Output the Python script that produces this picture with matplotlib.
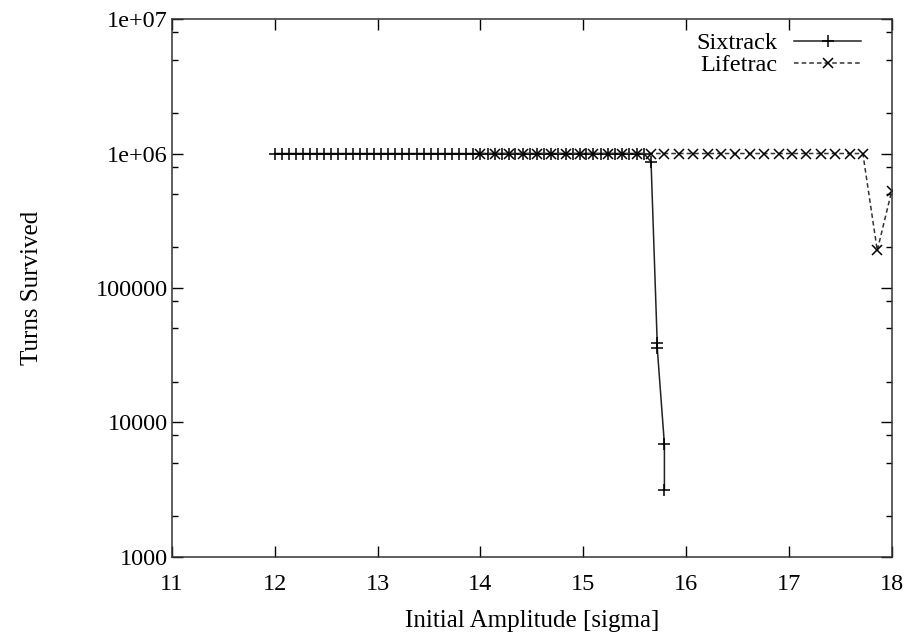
import numpy as np
import matplotlib
matplotlib.use("Agg")
import matplotlib.pyplot as plt
from matplotlib.ticker import FixedLocator, FixedFormatter

plt.rcParams['font.family'] = ['Liberation Serif', 'DejaVu Serif']

# Sixtrack: amplitude [sigma] vs turns survived
six_x = [12.00, 12.07, 12.14, 12.21, 12.28, 12.34, 12.41, 12.48, 12.55, 12.62,
         12.69, 12.76, 12.83, 12.90, 12.97, 13.03, 13.10, 13.17, 13.24, 13.31,
         13.38, 13.45, 13.52, 13.59, 13.66, 13.72, 13.79, 13.86, 13.93, 14.00,
         14.07, 14.14, 14.21, 14.28, 14.34, 14.41, 14.48, 14.55, 14.62, 14.69,
         14.76, 14.83, 14.90, 14.97, 15.03, 15.10, 15.17, 15.24, 15.31, 15.38,
         15.45, 15.52, 15.59, 15.66, 15.72, 15.72, 15.79, 15.79]
six_y = [1e6] * 53 + [870000, 39000, 36000, 6900, 3150]

# Lifetrac
life_x = [14.00, 14.14, 14.28, 14.41, 14.55, 14.69, 14.83, 14.97, 15.10, 15.24,
          15.38, 15.52, 15.66, 15.79, 15.93, 16.07, 16.21, 16.34, 16.48, 16.62,
          16.76, 16.90, 17.03, 17.17, 17.31, 17.45, 17.59, 17.72, 17.86, 18.00]
life_y = [1e6] * 28 + [190000, 525000]

y_ticks = [1e3, 1e4, 1e5, 1e6, 1e7]
y_labels = ['1000', '10000', '100000', '1e+06', '1e+07']
x_ticks = [11, 12, 13, 14, 15, 16, 17, 18]

fig = plt.figure(figsize=(9.24, 6.35), dpi=100)
ax = fig.add_axes([0.186, 0.123, 0.779, 0.847])

ax.plot(six_x, six_y, '-', color='#222222', lw=1.1, marker='+', ms=8,
        mew=1.1, mec='black', label='Sixtrack')
ax.plot(life_x, life_y, '--', color='#333333', lw=1.1, dashes=(3, 2),
        marker='x', ms=6.5, mew=1.1, mec='black', label='Lifetrac')

ax.set_yscale('log')
ax.set_xlim(11, 18)
ax.set_ylim(1e3, 1e7)

ax.yaxis.set_major_locator(FixedLocator(y_ticks))
ax.yaxis.set_major_formatter(FixedFormatter(y_labels))
minors = [m * d for d in [1e3, 1e4, 1e5, 1e6] for m in (2, 5, 8)]
ax.yaxis.set_minor_locator(FixedLocator(minors))
ax.yaxis.set_minor_formatter(FixedFormatter([''] * len(minors)))
ax.set_xticks(x_ticks)
ax.set_xticklabels([str(t) for t in x_ticks])

ax.tick_params(which='both', direction='in', top=True, right=True,
               labelsize=17.5, width=1)
ax.tick_params(which='major', length=8)
ax.tick_params(which='minor', length=4)
ax.tick_params(axis='x', which='major', pad=12)
ax.tick_params(axis='y', which='major', pad=3)
for s in ax.spines.values():
    s.set_linewidth(1.1)
    s.set_color('#333333')

ax.set_xlabel('Initial Amplitude [sigma]', fontsize=18, labelpad=11)
ax.set_ylabel('Turns Survived', fontsize=18, labelpad=38)

ax.legend(loc='upper right', frameon=False, markerfirst=False, fontsize=17.5,
          handlelength=2.75, bbox_to_anchor=(0.978, 1.003), borderaxespad=0.2,
          labelspacing=0.0, handletextpad=0.7)

fig.savefig('out.png', dpi=100)
